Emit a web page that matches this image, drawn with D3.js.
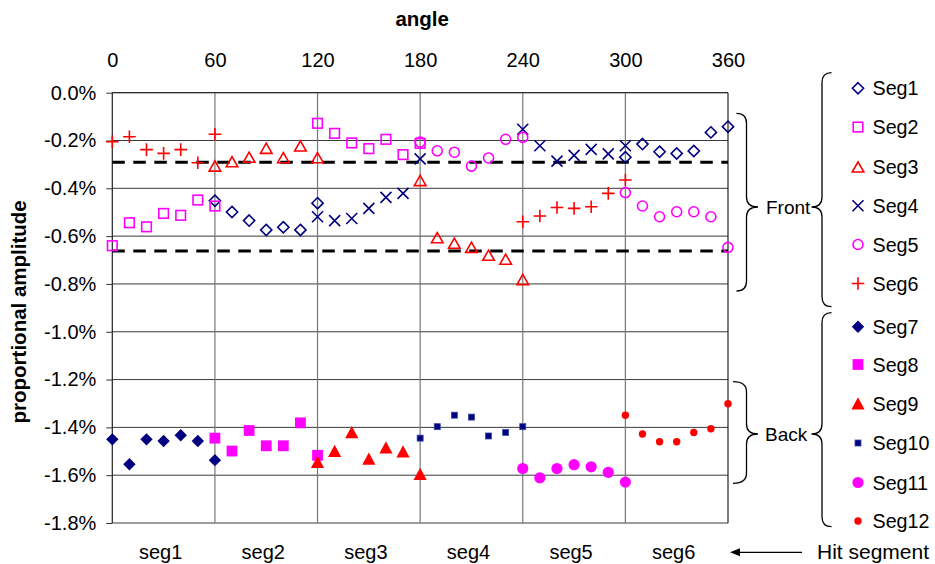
<!DOCTYPE html>
<html>
<head>
<meta charset="utf-8">
<script src="https://cdn.jsdelivr.net/npm/d3@7"></script>
<style>
  html, body { margin: 0; padding: 0; background: #fff; }
  svg { display: block; }
  text { font-family: "Liberation Sans", Arial, sans-serif; fill: #000; }
</style>
</head>
<body>
<svg id="chart" width="935" height="564"></svg>
<script>
// ---------------- DATA ----------------
const angleTicks = [0, 60, 120, 180, 240, 300, 360];
const ampTicks = [0, -0.2, -0.4, -0.6, -0.8, -1.0, -1.2, -1.4, -1.6, -1.8];
const segLabels = ["seg1", "seg2", "seg3", "seg4", "seg5", "seg6"];
const segMidAngles = [30, 90, 150, 210, 270, 330];
const dashedLevels = [-0.291, -0.662];

const seg1Angles = [60, 70, 80, 90, 100, 110, 120, 300, 310, 320, 330, 340, 350, 360];
const seg1Values = [-0.452, -0.499, -0.535, -0.574, -0.563, -0.574, -0.462, -0.270, -0.215, -0.247, -0.254, -0.244, -0.166, -0.142];
const seg2Angles = [0, 10, 20, 30, 40, 50, 60, 120, 130, 140, 150, 160, 170, 180];
const seg2Values = [-0.640, -0.544, -0.561, -0.505, -0.513, -0.449, -0.474, -0.128, -0.170, -0.210, -0.234, -0.195, -0.259, -0.212];
const seg3Angles = [60, 70, 80, 90, 100, 110, 120, 180, 190, 200, 210, 220, 230, 240];
const seg3Values = [-0.307, -0.289, -0.270, -0.233, -0.272, -0.223, -0.272, -0.368, -0.607, -0.630, -0.647, -0.680, -0.697, -0.782];
const seg4Angles = [120, 130, 140, 150, 160, 170, 180, 240, 250, 260, 270, 280, 290, 300];
const seg4Values = [-0.519, -0.535, -0.526, -0.484, -0.438, -0.421, -0.277, -0.153, -0.222, -0.286, -0.262, -0.237, -0.256, -0.222];
const seg5Angles = [180, 190, 200, 210, 220, 230, 240, 300, 310, 320, 330, 340, 350, 360];
const seg5Values = [-0.206, -0.243, -0.249, -0.307, -0.273, -0.195, -0.187, -0.418, -0.474, -0.519, -0.498, -0.498, -0.519, -0.647];
const seg6Angles = [0, 10, 20, 30, 40, 50, 60, 240, 250, 260, 270, 280, 290, 300];
const seg6Values = [-0.205, -0.184, -0.238, -0.254, -0.238, -0.293, -0.174, -0.540, -0.516, -0.480, -0.484, -0.477, -0.421, -0.365];

const seg7Angles = [0, 10, 20, 30, 40, 50, 60];
const seg7Values = [-1.450, -1.554, -1.450, -1.457, -1.433, -1.457, -1.537];
const seg8Angles = [60, 70, 80, 90, 100, 110, 120];
const seg8Values = [-1.445, -1.499, -1.413, -1.477, -1.477, -1.381, -1.517];
const seg9Angles = [120, 130, 140, 150, 160, 170, 180];
const seg9Values = [-1.545, -1.499, -1.420, -1.531, -1.484, -1.501, -1.595];
const seg10Angles = [180, 190, 200, 210, 220, 230, 240];
const seg10Values = [-1.445, -1.397, -1.349, -1.357, -1.436, -1.421, -1.397];
const seg11Angles = [240, 250, 260, 270, 280, 290, 300];
const seg11Values = [-1.572, -1.611, -1.572, -1.556, -1.565, -1.588, -1.629];
const seg12Angles = [300, 310, 320, 330, 340, 350, 360];
const seg12Values = [-1.349, -1.428, -1.460, -1.460, -1.421, -1.406, -1.301];

const seriesNames = ["Seg1","Seg2","Seg3","Seg4","Seg5","Seg6","Seg7","Seg8","Seg9","Seg10","Seg11","Seg12"];
const seriesAngles = [seg1Angles, seg2Angles, seg3Angles, seg4Angles, seg5Angles, seg6Angles,
                      seg7Angles, seg8Angles, seg9Angles, seg10Angles, seg11Angles, seg12Angles];
const seriesValues = [seg1Values, seg2Values, seg3Values, seg4Values, seg5Values, seg6Values,
                      seg7Values, seg8Values, seg9Values, seg10Values, seg11Values, seg12Values];
const seriesMarkers = ["diamondO","squareO","triangleO","cross","circleO","plus",
                       "diamondF","squareF","triangleF","squareS","circleF","circleS"];
const seriesColors = ["#000080","#FF00FF","#FF0000","#000080","#FF00FF","#FF0000",
                      "#000080","#FF00FF","#FF0000","#000080","#FF00FF","#FF0000"];

// ---------------- LAYOUT ----------------
const svg = d3.select("#chart");
const FONT = 20;
const x = d3.scaleLinear().domain([0, 360]).range([112.3, 728]);
const y = d3.scaleLinear().domain([0, -1.8]).range([92.7, 523]);

const fmt = d => (Math.abs(d) < 1e-9 ? "0.0" : d.toFixed(1)) + "%";

// gridlines
const grid = svg.append("g");
grid.selectAll("line.h").data(ampTicks).join("line")
  .attr("x1", x(0)).attr("x2", x(360))
  .attr("y1", d => y(d)).attr("y2", d => y(d))
  .attr("stroke", "#3a3a3a").attr("stroke-width", 1);
grid.selectAll("line.v").data(angleTicks).join("line")
  .attr("x1", d => x(d)).attr("x2", d => x(d))
  .attr("y1", y(0)).attr("y2", y(-1.8))
  .attr("stroke", d => (d === 0 || d === 360) ? "#222" : "#777").attr("stroke-width", 1.2);

// left axis
const yAxis = d3.axisLeft(y).tickValues(ampTicks).tickFormat(fmt).tickSize(6).tickPadding(10);
const gy = svg.append("g").attr("transform", `translate(${x(0)},0)`).call(yAxis);
gy.select(".domain").remove();
gy.selectAll(".tick line").attr("stroke", "#333");
gy.selectAll(".tick text").style("font-size", FONT + "px").style("font-family", '"Liberation Sans", Arial, sans-serif').attr("fill", "#000");

// top axis
const xAxis = d3.axisTop(x).tickValues(angleTicks).tickFormat(d3.format("d")).tickSize(0).tickPadding(26);
const gx = svg.append("g").attr("transform", `translate(0,${y(0)})`).call(xAxis);
gx.select(".domain").remove();
gx.selectAll(".tick text").style("font-size", FONT + "px").style("font-family", '"Liberation Sans", Arial, sans-serif').attr("fill", "#000");

// frame top
svg.append("line").attr("x1", x(0)).attr("x2", x(360)).attr("y1", y(0)).attr("y2", y(0)).attr("stroke", "#222");

// dashed reference lines
svg.selectAll("line.dash").data(dashedLevels).join("line")
  .attr("x1", x(0)).attr("x2", x(360))
  .attr("y1", d => y(d)).attr("y2", d => y(d))
  .attr("stroke", "#000").attr("stroke-width", 3).attr("stroke-dasharray", "12.5,8.5");

// titles
svg.append("text").attr("x", (x(0) + x(360)) / 2 + 2).attr("y", 25.5)
  .attr("text-anchor", "middle").style("font-weight", "bold").style("font-size", "20.5px").text("angle");
svg.append("text").attr("transform", `translate(26,${(y(0) + y(-1.8)) / 2 + 4}) rotate(-90)`)
  .attr("text-anchor", "middle").style("font-weight", "bold").style("font-size", "20.5px").text("proportional amplitude");

// bottom segment labels
svg.selectAll("text.seg").data(segLabels).join("text")
  .attr("x", (d, i) => x(segMidAngles[i]) - 3).attr("y", 559)
  .attr("text-anchor", "middle").style("font-size", FONT + "px").text(d => d);

// ---------------- MARKERS ----------------
function drawMarker(g, type, color) {
  const sw = 1.6;
  switch (type) {
    case "diamondO":
      g.append("path").attr("d", "M0,-5.6L5.6,0L0,5.6L-5.6,0Z").attr("fill", "none").attr("stroke", color).attr("stroke-width", sw); break;
    case "squareO":
      g.append("rect").attr("x", -4.8).attr("y", -4.8).attr("width", 9.6).attr("height", 9.6).attr("fill", "none").attr("stroke", color).attr("stroke-width", sw); break;
    case "triangleO":
      g.append("path").attr("d", "M0,-5.2L5.8,5L-5.8,5Z").attr("fill", "none").attr("stroke", color).attr("stroke-width", sw); break;
    case "cross":
      g.append("path").attr("d", "M-5.5,-5.5L5.5,5.5M5.5,-5.5L-5.5,5.5").attr("fill", "none").attr("stroke", color).attr("stroke-width", sw); break;
    case "circleO":
      g.append("circle").attr("r", 5).attr("fill", "none").attr("stroke", color).attr("stroke-width", sw); break;
    case "plus":
      g.append("path").attr("d", "M-6.3,0L6.3,0M0,-6.3L0,6.3").attr("fill", "none").attr("stroke", color).attr("stroke-width", sw); break;
    case "diamondF":
      g.append("path").attr("d", "M0,-6.2L6.2,0L0,6.2L-6.2,0Z").attr("fill", color); break;
    case "squareF":
      g.append("rect").attr("x", -5.4).attr("y", -5.4).attr("width", 10.8).attr("height", 10.8).attr("fill", color); break;
    case "triangleF":
      g.append("path").attr("d", "M0,-6.2L6.6,6L-6.6,6Z").attr("fill", color); break;
    case "squareS":
      g.append("rect").attr("x", -3).attr("y", -3).attr("width", 6).attr("height", 6).attr("fill", color).attr("stroke", "#3b4aa0").attr("stroke-width", 0.8); break;
    case "circleF":
      g.append("circle").attr("r", 5.6).attr("fill", color); break;
    case "circleS":
      g.append("circle").attr("r", 3.7).attr("fill", color); break;
  }
}

seriesNames.forEach((name, si) => {
  const pts = seriesAngles[si].map((a, i) => ({ a, v: seriesValues[si][i] }));
  const gs = svg.append("g").attr("class", "series-" + name);
  pts.forEach(p => {
    const g = gs.append("g").attr("transform", `translate(${x(p.a)},${y(p.v)})`);
    drawMarker(g, seriesMarkers[si], seriesColors[si]);
  });
});

// ---------------- LEGEND ----------------
const legendY = [88.3, 127, 167, 205.7, 244.5, 283.5, 326.7, 364.5, 403.5, 443, 482.5, 521];
seriesNames.forEach((name, i) => {
  const g = svg.append("g").attr("transform", `translate(858,${legendY[i]})`);
  drawMarker(g, seriesMarkers[i], seriesColors[i]);
  svg.append("text").attr("x", 872.5).attr("y", legendY[i] + 7).style("font-size", "19.7px").text(name);
});

// ---------------- BRACES ----------------
function braceRight(x0, xv, xt, y0, ym, y1) {
  const r = 10;
  return `M${x0},${y0} Q${xv},${y0} ${xv},${y0 + r} L${xv},${ym - r} Q${xv},${ym} ${xt},${ym} ` +
         `Q${xv},${ym} ${xv},${ym + r} L${xv},${y1 - r} Q${xv},${y1} ${x0},${y1}`;
}
const braces = [
  [736.5, 746.5, 758, 113.3, 207, 291],
  [831.5, 822, 811.5, 72.7, 207, 306.7],
  [733, 746.5, 758, 381.7, 434, 483.3],
  [831.5, 822, 811.5, 312.7, 434, 526.7]
];
braces.forEach(b => {
  svg.append("path").attr("d", braceRight(...b)).attr("fill", "none").attr("stroke", "#000").attr("stroke-width", 1.3);
});
svg.append("text").attr("x", 766).attr("y", 214).style("font-size", "19px").text("Front");
svg.append("text").attr("x", 765).attr("y", 441).style("font-size", "19px").text("Back");

// Hit segment arrow
svg.append("line").attr("x1", 802).attr("x2", 738).attr("y1", 552.3).attr("y2", 552.3).attr("stroke", "#000").attr("stroke-width", 1.2);
svg.append("path").attr("d", "M730,552.3L740,548.3L740,556.3Z").attr("fill", "#000");
svg.append("text").attr("x", 817).attr("y", 559).style("font-size", "21px").text("Hit segment");
</script>
</body>
</html>
